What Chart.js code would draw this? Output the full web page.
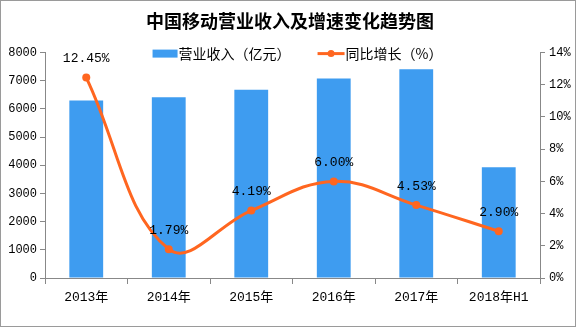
<!DOCTYPE html>
<html>
<head>
<meta charset="utf-8">
<script src="https://cdn.jsdelivr.net/npm/chart.js@4"></script>
<style>
  html, body { margin: 0; padding: 0; background: #fff; }
  #wrap { width: 574px; height: 325px; border: 1px solid #9a9a9a; }
</style>
</head>
<body>
<div id="wrap"><canvas id="c" width="574" height="325"></canvas></div>
<script>
const years = ["2013年", "2014年", "2015年", "2016年", "2017年", "2018年H1"];
const revenue = [6302, 6414, 6684, 7084, 7405, 3929];
const growth = [12.45, 1.79, 4.19, 6.00, 4.53, 2.90];

const numFont = "'Liberation Mono', 'Noto Sans CJK SC', monospace";
const cjkFont = "'Noto Sans CJK SC', sans-serif";
const barColor = "#3e9cf0";
const lineColor = "#ff6620";

// percent labels above the line points
const pointLabels = {
  id: "pointLabels",
  afterDatasetsDraw(chart) {
    const ctx = chart.ctx;
    const meta = chart.getDatasetMeta(0);
    ctx.save();
    ctx.font = "13px " + numFont;
    ctx.fillStyle = "#000";
    ctx.textAlign = "center";
    ctx.textBaseline = "bottom";
    meta.data.forEach((pt, i) => {
      ctx.fillText(growth[i].toFixed(2) + "%", pt.x, pt.y - 12);
    });
    ctx.restore();
  },
};

// legend drawn inside the top of the plot area, as in the original
const topLegend = {
  id: "topLegend",
  afterDraw(chart) {
    const ctx = chart.ctx;
    const ca = chart.chartArea;
    const y = ca.top + 1;
    ctx.save();
    ctx.font = "14px " + cjkFont;
    ctx.textBaseline = "middle";
    const t1 = chart.data.datasets[1].label;
    const t2 = chart.data.datasets[0].label;
    const w1 = ctx.measureText(t1).width;
    const w2 = ctx.measureText(t2).width;
    const total = 25 + 1 + w1 + 27 + 27 + 1 + w2;
    let x = (ca.left + ca.right) / 2 - total / 2 + 5;
    ctx.fillStyle = barColor;
    ctx.fillRect(x, y - 4, 25, 8);
    x += 26;
    ctx.fillStyle = "#000";
    ctx.fillText(t1, x, y);
    x += w1 + 27;
    ctx.strokeStyle = lineColor;
    ctx.lineWidth = 3;
    ctx.beginPath();
    ctx.moveTo(x, y);
    ctx.lineTo(x + 27, y);
    ctx.stroke();
    ctx.fillStyle = lineColor;
    ctx.beginPath();
    ctx.arc(x + 13.5, y, 3.5, 0, Math.PI * 2);
    ctx.fill();
    x += 28;
    ctx.fillStyle = "#000";
    ctx.fillText(t2, x, y);
    ctx.restore();
  },
};

new Chart(document.getElementById("c"), {
  data: {
    labels: years,
    datasets: [
      {
        type: "line",
        label: "同比增长（%）",
        data: growth,
        yAxisID: "y1",
        borderColor: lineColor,
        backgroundColor: lineColor,
        borderWidth: 3,
        pointRadius: 4,
        pointBackgroundColor: lineColor,
        pointBorderWidth: 0,
        tension: 0.4,
        order: 0,
      },
      {
        type: "bar",
        label: "营业收入（亿元）",
        data: revenue,
        yAxisID: "y",
        backgroundColor: barColor,
        categoryPercentage: 1,
        barPercentage: 0.41,
        order: 1,
      },
    ],
  },
  options: {
    responsive: false,
    animation: false,
    layout: { padding: { left: 4, right: 0, top: 0, bottom: 0 } },
    plugins: {
      title: {
        display: true,
        text: "中国移动营业收入及增速变化趋势图",
        color: "#000",
        font: { family: cjkFont, size: 18, weight: "bold" },
        padding: { top: 9, bottom: 21 },
      },
      legend: { display: false },
      tooltip: { enabled: false },
    },
    scales: {
      x: {
        afterFit: (s) => { s.height = 48; },
        grid: { display: true, drawOnChartArea: false, offset: true, tickLength: 6, color: "#888" },
        border: { color: "#888" },
        ticks: { color: "#000", font: { family: numFont, size: 13 }, padding: 6 },
      },
      y: {
        position: "left",
        min: 0,
        max: 8000,
        afterFit: (s) => { s.width = 40; },
        grid: { drawOnChartArea: false, tickLength: 5, color: "#888" },
        border: { color: "#888" },
        ticks: {
          stepSize: 1000,
          color: "#000",
          font: { family: numFont, size: 12 },
          padding: 3,
          callback: (v) => String(v),
        },
      },
      y1: {
        position: "right",
        min: 0,
        max: 14,
        afterFit: (s) => { s.width = 35; },
        grid: { drawOnChartArea: false, tickLength: 5, color: "#888" },
        border: { color: "#888" },
        ticks: {
          stepSize: 2,
          color: "#000",
          font: { family: numFont, size: 12 },
          padding: 4,
          callback: (v) => v + "%",
        },
      },
    },
  },
  plugins: [pointLabels, topLegend],
});
</script>
</body>
</html>
